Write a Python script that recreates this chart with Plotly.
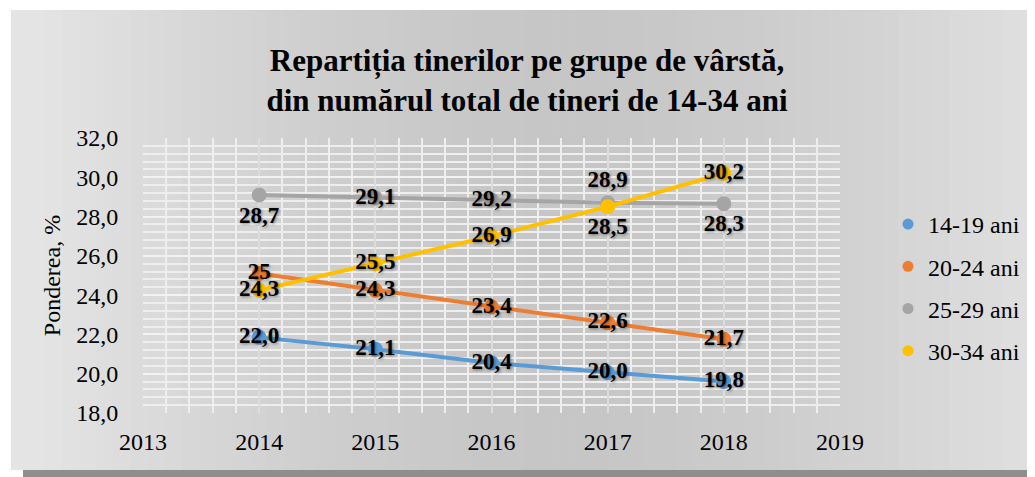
import plotly.graph_objects as go

# ---------------- data ----------------
years = [2014, 2015, 2016, 2017, 2018]
series_names = ["14-19 ani", "20-24 ani", "25-29 ani", "30-34 ani"]
v_14_19 = [21.85, 21.25, 20.55, 20.05, 19.6]
v_20_24 = [25.1, 24.25, 23.4, 22.6, 21.75]
v_25_29 = [29.1, 28.95, 28.85, 28.7, 28.65]
v_30_34 = [24.25, 25.6, 27.0, 28.5, 30.2]
lbl_14_19 = ["22,0", "21,1", "20,4", "20,0", "19,8"]
lbl_20_24 = ["25", "24,3", "23,4", "22,6", "21,7"]
lbl_25_29 = ["28,7", "29,1", "29,2", "28,9", "28,3"]
lbl_30_34 = ["24,3", "25,5", "26,9", "28,5", "30,2"]
x_ticks = [2013, 2014, 2015, 2016, 2017, 2018, 2019]
y_ticks = [18, 20, 22, 24, 26, 28, 30, 32]
y_tick_text = ["18,0", "20,0", "22,0", "24,0", "26,0", "28,0", "30,0", "32,0"]
title_text = "<b>Repartiția tinerilor pe grupe de vârstă,<br>din numărul total de tineri de 14-34 ani</b>"
y_title = "Ponderea, %"

# ---------------- style ----------------
W, H = 1035, 477
OFF = 8  # page body margin offset
# target plot area in screen px: x 143..840, y 138..413
ML = 143 - OFF
MT = 138 - OFF
MR = W - (840 - OFF)
MB = H - (413 - OFF)
PW, PH = W - ML - MR, H - MT - MB
colors = ["#5B9BD5", "#ED7D31", "#A5A5A5", "#FFC000"]
FONT = "Liberation Serif"

values = [v_14_19, v_20_24, v_25_29, v_30_34]
labels = [lbl_14_19, lbl_20_24, lbl_25_29, lbl_30_34]
tpos = [
    ["middle center"] * 5,
    ["middle center"] * 5,
    ["bottom center", "middle center", "middle center", "top center", "bottom center"],
    ["middle center", "middle center", "middle center", "bottom center", "middle center"],
]


def px_x(p):
    return (p - OFF - ML) / PW


def px_y(p):
    return (H - MB - (p - OFF)) / PH


fig = go.Figure()

for name, vals, lbl, col, tp in zip(series_names, values, labels, colors, tpos):
    fig.add_trace(go.Scatter(
        x=years, y=vals, mode="lines+markers+text", name=name,
        line=dict(color=col, width=4),
        marker=dict(color=col, size=15),
        text=lbl, textposition=tp,
        textfont=dict(family=FONT, size=23, color="black", weight="bold",
                      shadow="1px 1px 3px rgba(0,0,0,0.45)"),
        showlegend=False, cliponaxis=False,
    ))

for i, (name, col) in enumerate(zip(series_names, colors)):
    fig.add_trace(go.Scatter(
        x=[None], y=[None], mode="markers", name=name,
        marker=dict(color=col, size=11), legendgroup=f"g{i}",
        showlegend=True,
    ))

# background frame with horizontal gradient
shapes = []
x0, x1, y0, y1 = 11, 1035, 10, 470
shapes.append(dict(type="rect", xref="paper", yref="paper",
                   x0=px_x(x0 + 12), x1=px_x(W + OFF), y0=px_y(H + OFF), y1=px_y(y1 - 4),
                   fillcolor="#8e8e8e", line=dict(width=0), layer="below"))
n = 60
for k in range(n):
    a = x0 + (x1 - x0) * k / n
    b = x0 + (x1 - x0) * (k + 1) / n
    c = (a + b) / 2
    d = min(abs(c - 560) / 520, 1.0)
    v = int(round(198 + (228 - 198) * d ** 1.6))
    shapes.append(dict(type="rect", xref="paper", yref="paper",
                       x0=px_x(a), x1=px_x(b) + 0.001, y0=px_y(y1), y1=px_y(y0),
                       fillcolor=f"rgb({v},{v},{v})", line=dict(width=0), layer="below"))

fig.update_layout(
    width=W, height=H,
    margin=dict(l=ML, r=MR, t=MT, b=MB, autoexpand=False),
    paper_bgcolor="white",
    plot_bgcolor="#c4c4c4",
    shapes=shapes,
    title=dict(text=title_text, x=(527 - OFF) / W, xanchor="center", xref="container",
               y=1 - (71 - OFF) / H, yanchor="middle", yref="container",
               font=dict(family=FONT, size=31, color="black")),
    xaxis=dict(range=[2013, 2019], tickvals=x_ticks, ticktext=[str(t) for t in x_ticks],
               showgrid=True, gridcolor="#dcdcdc", gridwidth=1.5,
               minor=dict(dtick=0.2, showgrid=True, gridcolor="#eeeeee", gridwidth=1.5),
               ticks="outside", ticklen=7, tickcolor="rgba(0,0,0,0)",
               tickfont=dict(family=FONT, size=24, color="black"),
               showline=False, zeroline=False, automargin=False),
    yaxis=dict(range=[18, 32], tickvals=y_ticks, ticktext=y_tick_text,
               showgrid=True, gridcolor="#f2f2f2", gridwidth=1.5,
               minor=dict(dtick=0.4, showgrid=True, gridcolor="#eeeeee", gridwidth=1.5),
               ticks="outside", ticklen=19, tickcolor="rgba(0,0,0,0)",
               tickfont=dict(family=FONT, size=24, color="black"),
               title=dict(text=y_title, font=dict(family=FONT, size=24, color="black"), standoff=8),
               showline=False, zeroline=False, automargin=False),
    legend=dict(x=px_x(888), xanchor="left", y=px_y(202), yanchor="top",
                font=dict(family=FONT, size=24, color="black"),
                bgcolor="rgba(0,0,0,0)", tracegroupgap=8, itemsizing="trace"),
    showlegend=True,
)

fig.write_html("out.html")
